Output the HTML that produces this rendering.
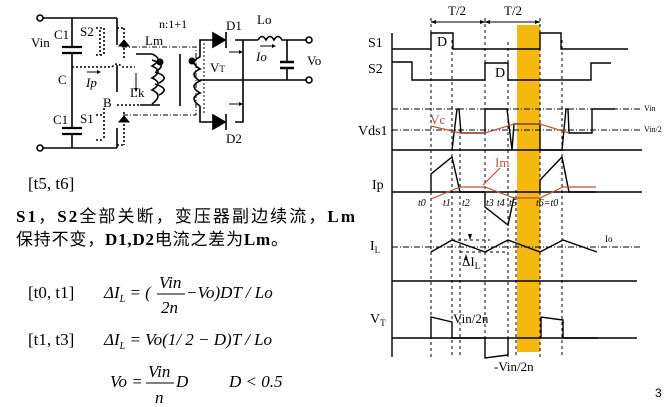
<!DOCTYPE html>
<html><head><meta charset="utf-8"><style>
body{margin:0;background:#fff;}
svg{display:block}
.s{font-family:"Liberation Serif",serif;}
.c{font-family:"Liberation Serif","Noto Sans CJK SC",serif;}
</style></head><body>
<svg width="667" height="407" viewBox="0 0 667 407" xmlns="http://www.w3.org/2000/svg">
<g fill="none" stroke="#000" stroke-width="1.6">
<circle cx="40" cy="18" r="3" fill="#fff"/><circle cx="40" cy="148" r="3" fill="#fff"/>
<path d="M43 18H117M43 148H117M72 18V47M72 53V128M72 134V148"/>
<path d="M62 47H82M62 53H82M62 128H82M62 134H82" stroke-width="2.2"/>
<path d="M117 18V45M117 128V148M117 65V92"/>
<path d="M104 28V55M96 28h8M96 55h8M100 30v25" stroke-dasharray="2 2"/>
<path d="M104 108V140M96 115h8M96 140h8" stroke-dasharray="2 2"/>
<path d="M124 28V60M117 28h7M124 112V145M117 145h7" stroke-dasharray="2 2"/>
<path d="M119 46l5 -6 5 6zM119 122l5 -6 5 6z" fill="#000" stroke-width="1"/>
<path d="M72 67H112M112 67q5 -6 10 0H135" stroke-dasharray="2 2"/>
<path d="M117 105H140" stroke-dasharray="2 2"/>
<path d="M122 47H196V115H122" stroke-dasharray="5 2 1 2" stroke-width="1"/>
<path d="M136 54H152M140 105H160"/>
<path d="M152 54q12 5 0 12q12 5 0 12q12 5 0 12q12 5 0 14"/>
<path d="M152 60q16 5 4 11M155 72q16 5 4 11M155 84q16 5 4 11"/>
<path d="M180 54V106"/>
<path d="M200 57q-12 5 0 12q-12 5 0 12q-12 5 0 12q-12 5 0 13"/>
<path d="M200 57V40H213M200 106V122H213M200 80H306"/>
<path d="M235 40H258M235 122H243V40"/>
<path d="M258 40q4-7 8 0q4-7 8 0q4-7 8 0H306M287 40V62M287 68V80"/>
<path d="M280 62H294M280 68H294" stroke-width="2.4"/>
<path d="M213 33V47l12 -7z M213 115V129l12 -7z" fill="#000"/>
<path d="M226 32V48M226 114V130"/>
<circle cx="309" cy="40" r="3" fill="#fff"/><circle cx="309" cy="80" r="3" fill="#fff"/>
<path d="M204 43V115" stroke-dasharray="2 2" stroke-width="1"/>
<path d="M136 73V90" stroke-width="1"/>
<path d="M229 52h10M229 104h10M87 72h10M260 46h12" stroke-width="1"/>
</g>
<g fill="#000"><circle cx="160" cy="62" r="3.5"/><circle cx="192" cy="61" r="3.5"/>
<path d="M239 50l4 2-4 2zM239 102l4 2-4 2zM97 70l4 2-4 2zM272 44l4 2-4 2zM134 88l2 4 2-4z"/></g>
<g class="s" font-size="13">
<text x="31" y="47">Vin</text><text x="54" y="39">C1</text><text x="80" y="36">S2</text>
<text x="58" y="84">C</text><text x="86" y="87" font-style="italic">Ip</text>
<text x="103" y="107">B</text><text x="53" y="124">C1</text><text x="80" y="123">S1</text>
<text x="145" y="45">Lm</text><text x="130" y="97">Lk</text><text x="159" y="28" font-size="12">n:1+1</text>
<text x="226" y="30">D1</text><text x="257" y="24">Lo</text><text x="256" y="61" font-style="italic">Io</text>
<text x="307" y="65">Vo</text><text x="226" y="143">D2</text><text x="210" y="72">V<tspan font-size="9">T</tspan></text>
</g>
<text class="s" x="28" y="189" font-size="17">[t5, t6]</text>
<text class="c" x="16" y="222" font-size="17" textLength="339" lengthAdjust="spacing"><tspan font-weight="bold">S1</tspan>，<tspan font-weight="bold">S2</tspan>全部关断，变压器副边续流，<tspan font-weight="bold">Lm</tspan></text>
<text class="c" x="16" y="245" font-size="17" textLength="272" lengthAdjust="spacing">保持不变，<tspan font-weight="bold">D1,D2</tspan>电流之差为<tspan font-weight="bold">Lm</tspan>。</text>
<g class="s" font-size="17">
<text x="28" y="298">[t0, t1]</text>
<text x="28" y="345">[t1, t3]</text>
<text x="104" y="298" font-style="italic">ΔI<tspan font-size="10" dy="4">L</tspan><tspan dy="-4"> = (</tspan></text>
<text x="159" y="288" font-style="italic">Vin</text><path d="M157 294H185" stroke="#000"/><text x="161" y="313" font-style="italic">2n</text>
<text x="186" y="298" font-style="italic">−Vo)DT / Lo</text>
<text x="104" y="345" font-style="italic">ΔI<tspan font-size="10" dy="4">L</tspan><tspan dy="-4"> = Vo(1/ 2 − D)T / Lo</tspan></text>
<text x="110" y="387" font-style="italic">Vo =</text>
<text x="148" y="377" font-style="italic">Vin</text><path d="M146 383H174" stroke="#000"/><text x="155" y="403" font-style="italic">n</text>
<text x="176" y="387" font-style="italic">D</text><text x="229" y="387" font-style="italic">D &lt; 0.5</text>
</g>
<rect x="517" y="25" width="23" height="327" fill="#f5b80f"/>
<g fill="none" stroke="#000" stroke-width="1" stroke-dasharray="3 3">
<path d="M431 18V357M452 40V357M460 130V357M485 18V357M508 42V357M516 190V357M540 18V357M562 40V357"/>
<path d="M452 240H490M460 252H508"/>
</g>
<g fill="none" stroke="#000" stroke-width="1" stroke-dasharray="6 2 1 2">
<path d="M392 109H640M392 130H640M392 247H640"/>
</g>
<g fill="none" stroke="#000" stroke-width="1.4">
<path d="M392 33V357"/>
<path d="M392 49H431V33H453V49H540V33H561V49H628"/>
<path d="M392 62H412V80H485V63H508V80H591V63H611"/>
<path d="M392 150H642M392 192H642M392 281H637M392 338H637"/>
<path d="M452 150L457 109H459L461 133H485V109H507L512 150L514 124H540V150H562L566 109H568L569 133H592V109H615"/>
<path d="M431 192V174L452 157L460 192H485V207L508 225L514 197M540 192V180L562 157L569 192H596"/>
<path d="M431 252L452 240L485 252L508 240L540 252L563 240L597 252"/>
<path d="M431 338V317L452 322V338H485V358L508 355V338M541 338V317L563 320V338H598"/>
<path d="M431 22H485M485 22H540" stroke="#555"/>
</g>
<path d="M485 22l-5-2v4zM431 22l5-2v4zM485 22l5-2v4zM540 22l-5-2v4zM470 240l-2-6h4zM466 254l-2 6h4z" fill="#000"/>
<g fill="none" stroke="#b5533c" stroke-width="1.2">
<path d="M431 126L460 133H485L514 124H540L569 133"/>
<path d="M431 199L460 187H485L514 198H540L563 187H596"/>
<path d="M500 168L483 185"/>
</g>
<g class="s">
<text x="448" y="15" font-size="13">T/2</text><text x="504" y="15" font-size="13">T/2</text>
<text x="437" y="46" font-size="14">D</text><text x="495" y="77" font-size="14">D</text>
<text x="368" y="47" font-size="14">S1</text><text x="368" y="73" font-size="14">S2</text>
<text x="358" y="135" font-size="14">Vds1</text><text x="430" y="124" font-size="13" fill="#b5533c">Vc</text>
<text x="495" y="167" font-size="13" fill="#b5533c">Im</text>
<text x="372" y="189" font-size="14">Ip</text>
<text x="644" y="111" font-size="8">Vin</text><text x="644" y="132" font-size="8">Vin/2</text>
<g font-size="10" font-style="italic"><text x="418" y="206">t0</text><text x="443" y="206">t1</text><text x="462" y="206">t2</text><text x="486" y="206">t3</text><text x="497" y="206">t4</text><text x="509" y="206">t5</text><text x="536" y="206">t6=t0</text></g>
<text x="370" y="250" font-size="14">I<tspan font-size="9" dy="3">L</tspan></text>
<text x="605" y="242" font-size="9">Io</text>
<text x="462" y="266" font-size="13">ΔI<tspan font-size="9" dy="3">L</tspan></text>
<text x="370" y="323" font-size="14">V<tspan font-size="9" dy="3">T</tspan></text>
<text x="453" y="323" font-size="13">Vin/2n</text>
<text x="494" y="371" font-size="13">-Vin/2n</text>
</g>
<text x="655" y="397" font-family="Liberation Sans,sans-serif" font-size="12">3</text>
</svg>
</body></html>
